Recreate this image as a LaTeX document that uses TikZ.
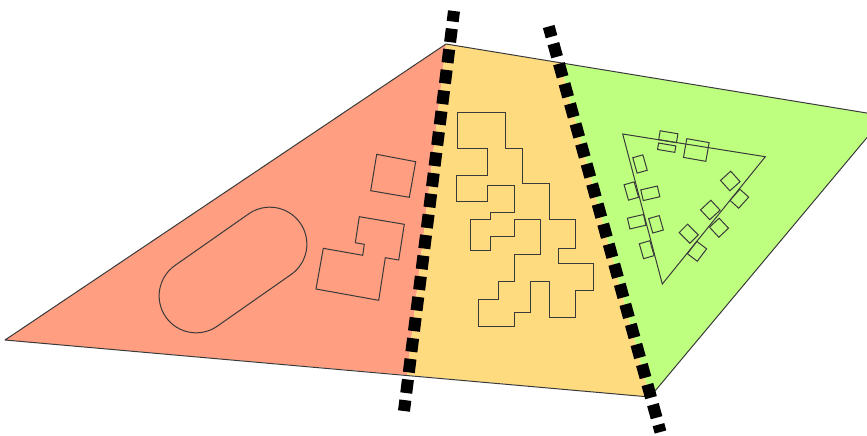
\documentclass[tikz,border=0pt]{standalone}
\definecolor{plotred}{HTML}{FF9E80}
\definecolor{plotyellow}{HTML}{FFDB80}
\definecolor{plotgreen}{HTML}{BFFF80}
\definecolor{inkgrey}{HTML}{3A3A3A}
\begin{document}
\begin{tikzpicture}[x=0.5pt,y=-0.5pt,
 zone/.style={draw=none},
 edge/.style={draw=inkgrey,line width=0.5pt,line join=round},
 bldg/.style={draw=inkgrey,line width=0.5pt},
 hut/.style={draw=inkgrey,line width=0.5pt,rectangle,inner sep=0pt},
 cut/.style={draw=black,line width=6pt,dash pattern=on 6.8pt off 3.6pt,dash phase=1.5pt}]
\clip (0,0) rectangle (867,435);
\coordinate (w) at (5,340);
\coordinate (n) at (446,44);
\coordinate (e) at (885,116);
\coordinate (s) at (650,397);
\coordinate (a1) at (407,375);
\coordinate (a2) at (560,63);
\fill[zone,plotred] (w) -- (n) -- (a1) -- cycle;
\fill[zone,plotyellow] (n) -- (a2) -- (s) -- (a1) -- cycle;
\fill[zone,plotgreen] (a2) -- (e) -- (s) -- cycle;
\draw[edge] (w) -- (n) -- (e) -- (s) -- cycle;
\draw[bldg,rounded corners=18.5pt,rotate around={35:(233,270)}] (151,233) rectangle (315,307);
\draw[bldg] (376.7,154.3) -- (415.7,161.7) -- (409.3,197.3) -- (370.7,190.7) -- cycle;
\draw[bldg] (359.3,216.7) -- (404.3,224.3) -- (398.7,260) -- (385.3,257.7) -- (378.7,300.3)
 -- (316,289) -- (323.3,248.3) -- (362.7,255.3) -- (364.3,244.3) -- (355.3,242.7) -- cycle;
\draw[bldg] (457.3,112.3) -- (505,112.3) -- (505,148.3) -- (522.7,148.3) -- (522.7,183.3)
 -- (549.3,183.3) -- (549.3,219) -- (575.7,219) -- (575.7,248) -- (558,248) -- (558,263.7)
 -- (593.3,263.7) -- (593.3,290.3) -- (575.7,290.3) -- (575.7,317) -- (549.3,317)
 -- (549.3,281.7) -- (530.7,281.7) -- (530.7,312.3) -- (514,312.3) -- (514,326)
 -- (478.7,326) -- (478.7,299.3) -- (498.7,299.3) -- (498.7,281.7) -- (514,281.7)
 -- (514,254.7) -- (540.7,254.7) -- (540.7,219) -- (514,219) -- (514,236.7)
 -- (490,236.7) -- (490,250.7) -- (470,250.7) -- (470,219) -- (490,219) -- (490,212.3)
 -- (514,212.3) -- (514,185.7) -- (487.7,185.7) -- (487.7,201) -- (456.7,201)
 -- (456.7,175) -- (487.7,175) -- (487.7,148.3) -- (457.3,148.3) -- cycle;
\draw[bldg] (622.7,134) -- (765.3,156.7) -- (662.3,284) -- cycle;
\foreach \x/\y/\w/\h/\a [count=\i] in {
 668.3/136.7/18/9/-9.5, 666.7/147.7/17.5/6.5/-9.5, 696.3/150/22.7/19/-10,
 640/164/10.5/16/16, 631.3/191/10.5/16/16, 650.3/193.3/17/11/13,
 636.7/221.7/16.5/11/13, 656/224.3/11/15/16, 646.7/249.7/11/15.5/16,
 730.3/181/13.7/14/42, 739.3/198.7/14.9/11.8/48, 710.3/210/14.1/13.5/43,
 719/227.7/13.2/13.7/43, 688.7/233.7/11.8/15.1/45, 697/251.3/15.5/12.4/53}
 \node[hut,minimum width=\w*0.5pt,minimum height=\h*0.5pt,rotate=\a] (hut\i) at (\x,\y) {};
\coordinate (c1a) at (454,11);
\coordinate (c1b) at (404,411);
\coordinate (c2a) at (548.7,26.5);
\coordinate (c2b) at (660.5,432);
\draw[cut] (c1a) -- (c1b);
\draw[cut] (c2a) -- (c2b);
\end{tikzpicture}
\end{document}
